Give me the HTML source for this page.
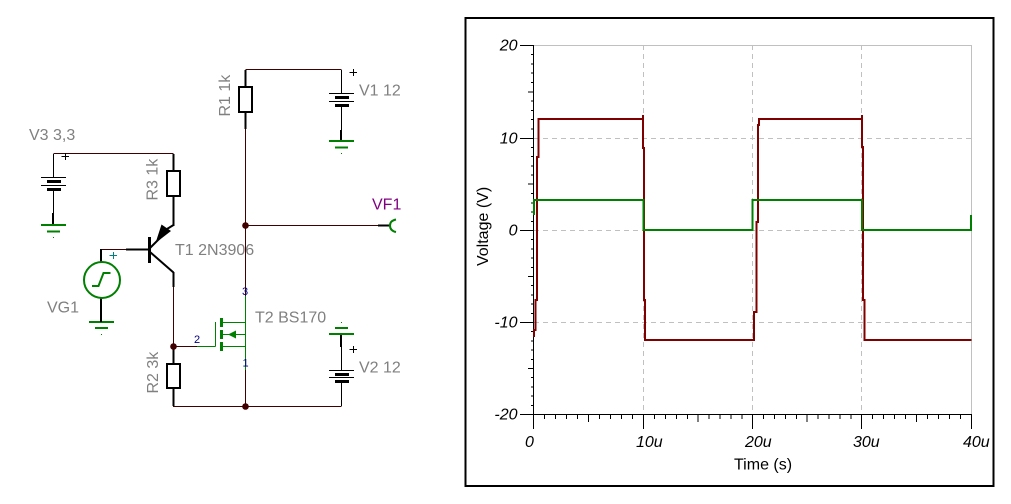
<!DOCTYPE html>
<html><head><meta charset="utf-8">
<style>
html,body{margin:0;padding:0;background:#fff;width:1011px;height:504px;overflow:hidden}
svg{display:block;position:absolute;left:0;top:0}
text{font-family:"Liberation Sans",sans-serif;font-size:16px}
.g{fill:#808080}
.ax{font-style:italic;fill:#000}
.n{font-size:11px;fill:#000080}
</style></head><body>
<svg width="1011" height="504" viewBox="0 0 1011 504" xmlns="http://www.w3.org/2000/svg">
<!-- circuit: thin maroon wires -->
<g fill="none" stroke="#400000" stroke-width="1" shape-rendering="crispEdges">
<path d="M53.5 153.5H173.5M245.5 69.5H341.5M245.5 129V296M245.5 370V406M245.5 225.5H378M101.5 249.5H126M173.5 287V346M173.5 346.5H197"/>
<path d="M173 406.5H341.5"/>
</g>
<!-- black component leads -->
<g fill="none" stroke="#000" stroke-width="1" shape-rendering="crispEdges">
<path d="M53.5 154V177M53.5 189V213M341.5 70V93M341.5 105V130M341.5 347V370M341.5 381V406"/>
<path d="M41 177.5H66M41 185.5H66M329 93.5H354M329 101.5H354M329 370.5H354M329 377.5H354"/>
</g>
<g fill="none" stroke="#000" stroke-width="2" shape-rendering="crispEdges">
<path d="M53 213V224M341 130V141M341 334V347M378 225.5H390"/>
<path d="M173.5 154V171M173.5 196V226M245.5 70V87M245.5 112V129M173.5 272V287M173.5 346V364M173.5 388V406M126 249.5H150"/>
<rect x="167" y="171" width="13" height="25"/>
<rect x="239" y="87" width="13" height="25"/>
<rect x="167" y="364" width="13" height="24"/>
</g>
<g fill="#000" shape-rendering="crispEdges">
<rect x="47" y="180" width="14" height="3"/><rect x="47" y="188" width="14" height="3"/>
<rect x="335" y="96" width="14" height="3"/><rect x="335" y="104" width="14" height="3"/>
<rect x="335" y="373" width="14" height="3"/><rect x="335" y="380" width="14" height="3"/>
<rect x="148" y="237" width="3" height="26"/>
</g>
<!-- transistor T1 -->
<path d="M150 252L173.5 272.5M150 248L160 238M173.5 225L167 229" fill="none" stroke="#000" stroke-width="2"/>
<path d="M155.500 243L161.500 224.500L171 231Z" fill="#000"/>
<!-- plus signs -->
<g fill="none" stroke="#000" stroke-width="1" shape-rendering="crispEdges">
<path d="M61.5 156.5H69M65.5 153V160M349.5 72.5H357M353.5 69V76M349.5 349.5H357M353.5 346V353"/>
</g>
<path d="M109.5 255.5H117M113.5 252V259" fill="none" stroke="#008080" stroke-width="1" shape-rendering="crispEdges"/>
<!-- grounds -->
<g fill="none" stroke="#008000" stroke-width="2" shape-rendering="crispEdges">
<path d="M41 225H66M47 231.5H60M329 141H354M335 147.5H348M329 334H354M335 328H348M89 322H114M95 328H108"/>
</g>
<g fill="#008000" shape-rendering="crispEdges">
<rect x="53" y="237" width="1" height="1"/><rect x="341" y="153" width="1" height="1"/>
<rect x="341" y="322" width="1" height="1"/><rect x="101" y="334" width="1" height="1"/>
</g>
<!-- VG1 -->
<path d="M101 249V262M101 298V322" fill="none" stroke="#000" stroke-width="2" shape-rendering="crispEdges"/>
<circle cx="102" cy="280" r="18" fill="#fff" stroke="#008000" stroke-width="2"/>
<path d="M92 286H98.5L103.500 273H110.500" fill="none" stroke="#008000" stroke-width="2"/>
<!-- T2 -->
<g fill="none" stroke="#008000" stroke-width="1" shape-rendering="crispEdges">
<path d="M245.500 296V370M222 322.500H245.500M222 334.500H245.500M222 346.500H245.500M215.500 322V346.500M197 346.500H215.500"/>
</g>
<g fill="#008000" shape-rendering="crispEdges">
<rect x="220" y="318" width="3" height="9"/><rect x="220" y="330" width="3" height="9"/><rect x="220" y="342" width="3" height="9"/>
</g>
<path d="M228 334.500L236 330.500V338.500Z" fill="#008000"/>
<!-- VF1 connector -->
<path d="M396 219.500C391 220.500 390 223 390 225.500C390 228 391 231 396 232" fill="none" stroke="#008000" stroke-width="2"/>
<!-- junction dots -->
<g fill="#400000">
<circle cx="245.500" cy="225.500" r="3.300"/><circle cx="245.500" cy="406.500" r="3.300"/><circle cx="173.500" cy="346.500" r="3.300"/>
</g>
<!-- circuit labels -->
<text class="g" x="29" y="140">V3 3,3</text>
<text class="g" x="359" y="95.500">V1 12</text>
<text class="g" x="359" y="372.500">V2 12</text>
<text class="g" x="175" y="255">T1 2N3906</text>
<text class="g" x="255" y="322.500">T2 BS170</text>
<text class="g" x="47" y="312.500">VG1</text>
<text x="372" y="209.500" style="fill:#800080">VF1</text>
<text class="g" transform="translate(230 116.500) rotate(-90)">R1 1k</text>
<text class="g" transform="translate(157.500 200.500) rotate(-90)">R3 1k</text>
<text class="g" transform="translate(158 393.500) rotate(-90)">R2 3k</text>
<text class="n" x="242" y="295">3</text>
<text class="n" x="194" y="343">2</text>
<text class="n" x="242.500" y="366.500">1</text>
<!-- chart frame -->
<rect x="465.500" y="18" width="528" height="468" fill="none" stroke="#000" stroke-width="2" shape-rendering="crispEdges"/>
<!-- grid -->
<g fill="none" stroke="#c0c0c0" stroke-width="1" shape-rendering="crispEdges">
<path d="M533 45.500H971.500M971.500 45V414"/>
<path stroke-dasharray="5 4" d="M643.500 45V414M752.500 45V414M861.500 45V414M534 138.500H971M534 230.500H971M534 322.500H971"/>
</g>
<!-- axes -->
<g fill="none" stroke="#000" stroke-width="1" shape-rendering="crispEdges">
<path d="M533.500 45V429M533 414.500H971.500"/>
<path d="M520 45.500H533M520 138.500H533M520 230.500H533M520 322.500H533M520 414.500H533"/>
<path d="M528 92H533M528 184H533M528 276.500H533M528 368.500H533"/>
<path d="M531 54.500H533M531 64H533M531 73H533M531 82.500H533M531 101H533M531 110.500H533M531 119.500H533M531 129H533M531 147.500H533M531 156.500H533M531 166H533M531 175H533M531 193.500H533M531 203H533M531 212H533M531 221.500H533M531 239.500H533M531 249H533M531 258H533M531 267.500H533M531 285.500H533M531 295H533M531 304H533M531 313.500H533M531 331.500H533M531 341H533M531 350H533M531 359.500H533M531 377.500H533M531 387H533M531 396H533M531 405.500H533"/>
<path d="M643.500 414V429M752.500 414V429M861.500 414V429M971.500 414V429"/>
<path d="M588.500 414V422M698 414V422M807 414V422M916.500 414V422"/>
<path d="M544.500 414V419M555.500 414V419M566.500 414V419M577.500 414V419M599.500 414V419M610.500 414V419M621.500 414V419M632.500 414V419M654.500 414V419M665.500 414V419M676.500 414V419M687.500 414V419M709 414V419M720 414V419M731 414V419M742 414V419M763.500 414V419M774.500 414V419M785.500 414V419M796.500 414V419M818 414V419M829 414V419M840 414V419M851 414V419M872.500 414V419M883.500 414V419M894.500 414V419M905.500 414V419M927.500 414V419M938.500 414V419M949.500 414V419M960.500 414V419"/>
</g>
<!-- traces -->
<g fill="none" stroke="#800000" stroke-width="2" shape-rendering="crispEdges">
<path d="M534 337V330H535.500V300H537V157H538.500V119H643V115M643 115V148H644V300H645V340H754V312H756.700V222H758V125H759V119H862V115M862 115V147H863.200V300H864.300V340H971.500"/>
</g>
<g fill="none" stroke="#008000" stroke-width="2" shape-rendering="crispEdges">
<path d="M534 215V200H643.500V230H752.500V200H862V230H971V215"/>
</g>
<!-- chart labels -->
<g class="ax">
<text class="ax" x="517.500" y="50.500" text-anchor="end">20</text>
<text class="ax" x="517.500" y="143.500" text-anchor="end">10</text>
<text class="ax" x="517.500" y="235.500" text-anchor="end">0</text>
<text class="ax" x="517.500" y="327.500" text-anchor="end">-10</text>
<text class="ax" x="517.500" y="419.500" text-anchor="end">-20</text>
<text class="ax" x="525" y="447">0</text>
<text class="ax" x="636" y="447">10u</text>
<text class="ax" x="745" y="447">20u</text>
<text class="ax" x="853" y="447">30u</text>
<text class="ax" x="963" y="447">40u</text>
</g>
<text x="734" y="469.500" style="fill:#000;font-size:16px">Time (s)</text>
<text transform="translate(488 266) rotate(-90)" style="fill:#000;font-size:16px">Voltage (V)</text>
</svg>
</body></html>
